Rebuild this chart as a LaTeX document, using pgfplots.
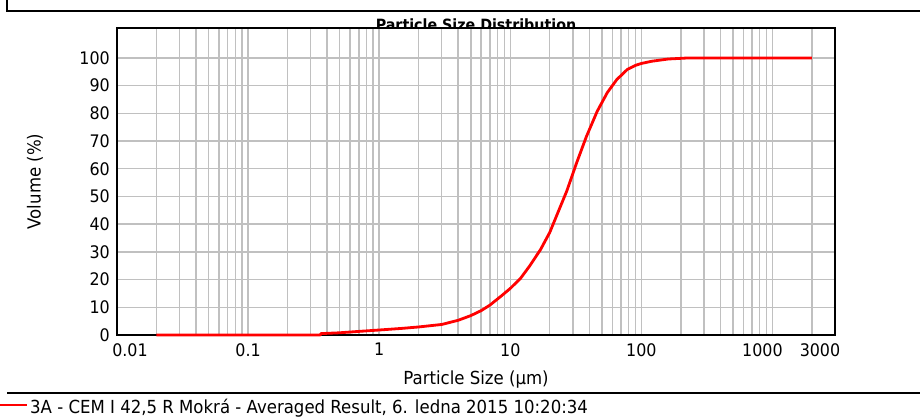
\documentclass[border=0pt]{standalone}
\usepackage{pgfplots}
\pgfplotsset{compat=1.18}
\usepackage{fontspec}
\setmainfont{DejaVu Sans}[FakeStretch=0.92]
\definecolor{gridgray}{HTML}{C0C0C0}
\pgfplotstableread{
x y
0.02 0
0.355 0
0.36 0.5
0.5 0.8
0.7 1.3
1.0 1.8
1.5 2.4
2.0 2.9
3.0 3.8
4.0 5.3
5.0 7.0
6.0 8.8
7.0 10.8
8.4 13.8
10 16.8
12 20.5
14 24.8
17 30.8
20 37
23 44
27 52
32 62
38 71.5
46 80.7
55 87.5
65 92.2
78 95.8
90 97.3
100 98.0
120 98.8
160 99.6
230 100
2000 100
}\psd
\begin{document}
\fontsize{18}{21}\selectfont
\begin{tikzpicture}
\path[use as bounding box] (0,0) rectangle (920pt,417pt);
% outer frame
\draw[line width=2pt] (7pt,417pt) -- (7pt,405.5pt) -- (920pt,405.5pt);
\draw[line width=2pt] (7pt,24pt) -- (920pt,24pt);
% title (partly hidden by plot area)
\node[anchor=base, font=\bfseries\fontsize{15.5}{18}\selectfont] at (476pt,386pt) {Particle Size Distribution};
\begin{axis}[
  at={(117pt,82pt)}, anchor=south west,
  scale only axis, width=718pt, height=307pt,
  xmode=log, xmin=0.01, xmax=3000, ymin=0, ymax=110.8,
  clip=false,
  axis background/.style={fill=white},
  xtick={0.01,0.1,1,10,100,1000,3000},
  xticklabels={\makebox[0pt]{\kern26pt 0.01},0.1,1,10,100,\makebox[0pt]{1000\kern20pt},\makebox[0pt]{3000\kern30pt}},
  minor xtick={0.02,0.03,0.04,0.05,0.06,0.07,0.08,0.09,0.2,0.3,0.4,0.5,0.6,0.7,0.8,0.9,2,3,4,5,6,7,8,9,20,30,40,50,60,70,80,90,200,300,400,500,600,700,800,900,2000},
  ytick={0,10,20,30,40,50,60,70,80,90,100},
  yticklabels={0,10,20,30,40,50,60,70,80,90,100},
  grid=both,
  major grid style={gridgray, line width=1.4pt},
  minor grid style={gridgray, line width=1.4pt},
  major tick length=0pt, minor tick length=0pt,
  axis line style={line width=2pt, black},
  /pgf/number format/assume math mode=true,
  tick label style={font=\fontsize{17.3}{20}\selectfont},
  xticklabel style={yshift=-2pt},
  yticklabel style={xshift=-1pt},
  xlabel={Particle Size (µm)},
  ylabel={Volume (\%)},
  xlabel style={at={([yshift=-45pt]rel axis cs:0.5,0)}, anchor=center},
  ylabel style={at={([xshift=-82pt]rel axis cs:0,0.5)}, anchor=center},
]
\addplot[red, line width=2.8pt, line join=round] table[x=x, y=y] {\psd};
\end{axis}
% legend
\draw[red, line width=1.6pt] (0pt,12pt) -- (27pt,12pt);
\node[anchor=base west, inner sep=0pt] at (30pt,3pt) {3A - CEM I 42,5 R Mokrá - Averaged Result, 6. ledna 2015 10:20:34};
\end{tikzpicture}
\end{document}
